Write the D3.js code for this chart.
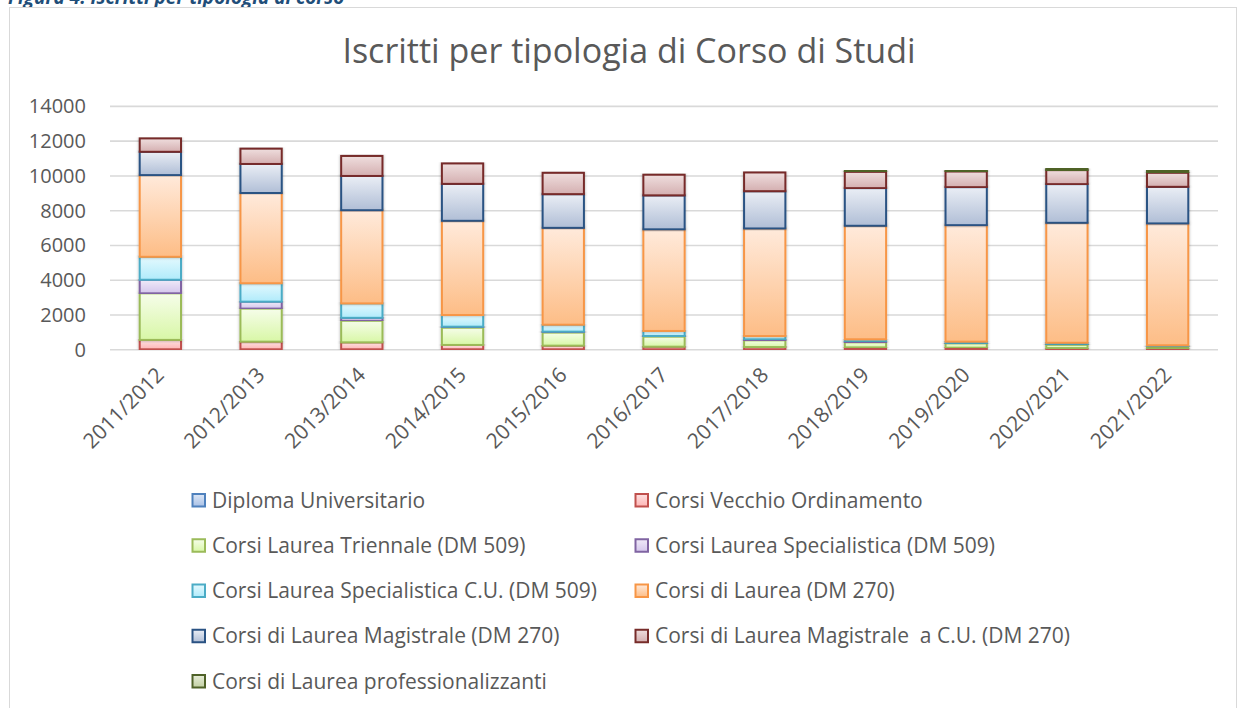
<!DOCTYPE html>
<html><head><meta charset="utf-8">
<script src="https://cdn.jsdelivr.net/npm/d3@7"></script>
<style>
html,body{margin:0;padding:0;background:#fff;}
svg{display:block;}
text{font-family:"Open Sans",sans-serif;}
</style></head>
<body><svg id="chart" width="1238" height="708"></svg>
<script>
const years = ["2011/2012","2012/2013","2013/2014","2014/2015","2015/2016","2016/2017","2017/2018","2018/2019","2019/2020","2020/2021","2021/2022"];
const seriesNames = ["Diploma Universitario","Corsi Vecchio Ordinamento","Corsi Laurea Triennale (DM 509)","Corsi Laurea Specialistica (DM 509)","Corsi Laurea Specialistica C.U. (DM 509)","Corsi di Laurea (DM 270)","Corsi di Laurea Magistrale (DM 270)","Corsi di Laurea Magistrale  a C.U. (DM 270)","Corsi di Laurea professionalizzanti"];
const diploma       = [0,0,0,0,0,0,0,0,0,0,0];
const vecchio       = [540,440,400,250,210,150,130,110,90,70,40];
const triennale     = [2680,1900,1240,990,750,575,385,290,250,190,100];
const specialistica = [780,400,170,60,55,40,55,45,20,15,10];
const specCU        = [1320,1060,830,670,400,290,190,130,80,100,80];
const laurea270     = [4700,5190,5360,5420,5570,5845,6190,6530,6700,6900,7010];
const magistrale    = [1340,1670,1970,2125,1940,1955,2145,2165,2185,2225,2105];
const magistraleCU  = [770,880,1150,1175,1225,1185,1075,935,900,805,805];
const professional  = [0,0,0,0,0,0,0,100,75,115,115];
const yTicks = [0,2000,4000,6000,8000,10000,12000,14000];
const title = "Iscritti per tipologia di Corso di Studi";
const caption = "Figura 4: Iscritti per tipologia di corso";

const seriesValues = [diploma,vecchio,triennale,specialistica,specCU,laurea270,magistrale,magistraleCU,professional];
const styles = [
  {stroke:"#4F81BD", top:"#dde7f6", bot:"#a9c1e6"},
  {stroke:"#C0504D", top:"#fde2e2", bot:"#ffb5b5"},
  {stroke:"#9BBB59", top:"#f6fdea", bot:"#d8f7a6"},
  {stroke:"#8064A2", top:"#f0eaf8", bot:"#d4c6ec"},
  {stroke:"#4BACC6", top:"#e4f9fe", bot:"#b0ebfb"},
  {stroke:"#F79646", top:"#ffeadb", bot:"#fdbd86"},
  {stroke:"#2A5283", top:"#eaeef5", bot:"#b0bed6"},
  {stroke:"#772C2A", top:"#efdede", bot:"#d4afb0"},
  {stroke:"#4F6228", top:"#e7edd9", bot:"#c2d0a3"}
];

const rows = years.map((y,i)=>{const o={year:y}; seriesNames.forEach((s,k)=>o[s]=seriesValues[k][i]); return o;});
const stacked = d3.stack().keys(seriesNames)(rows);

const svg = d3.select("#chart");
const defs = svg.append("defs");
styles.forEach((s,k)=>{
  const g = defs.append("linearGradient").attr("id","g"+k).attr("x1",0).attr("y1",0).attr("x2",0).attr("y2",1);
  g.append("stop").attr("offset","0%").attr("stop-color",s.top);
  g.append("stop").attr("offset","100%").attr("stop-color",s.bot);
});
const f = defs.append("filter").attr("id","shadow").attr("x","-20%").attr("y","-5%").attr("width","140%").attr("height","110%");
f.append("feDropShadow").attr("dx",0).attr("dy",0).attr("stdDeviation",1.6).attr("flood-color","#000").attr("flood-opacity",0.3);

// caption (cut off at top, as in the source page)
svg.append("text").attr("x",8).attr("y",4).attr("font-size",19).attr("font-weight","bold").attr("font-style","italic")
  .attr("fill","#1F4E79").text(caption);

// chart frame
svg.append("rect").attr("x",9.5).attr("y",7.5).attr("width",1227).attr("height",720).attr("fill","#fff").attr("stroke","#d9d9d9").attr("stroke-width",1);

svg.append("text").attr("x",629).attr("y",63).attr("text-anchor","middle").attr("font-size",34)
  .attr("fill","#595959").text(title);

const x = d3.scaleBand().domain(years).range([110,1218]).paddingInner(0.59).paddingOuter(0.295);
const y = d3.scaleLinear().domain([0,14000]).range([349.3,105.9]);

// gridlines + y tick labels
const yAxis = d3.axisLeft(y).tickValues(yTicks).tickSize(-(1218-110)).tickPadding(24).tickFormat(d3.format("d"));
const ga = svg.append("g").attr("transform","translate(110,0)").call(yAxis);
ga.select(".domain").remove();
ga.selectAll(".tick line").attr("stroke","#d9d9d9").attr("stroke-width",1.6);
ga.selectAll(".tick text").attr("fill","#595959").attr("font-size",20).attr("font-family","'Open Sans',sans-serif").attr("dy","0.35em");

// bars
const layers = svg.append("g").selectAll("g").data(stacked).join("g")
  .attr("fill",(d,k)=>`url(#g${k})`).attr("stroke",(d,k)=>styles[k].stroke).attr("stroke-width",2);
layers.selectAll("rect").data(d=>d.filter(p=>p[1]-p[0]>0)).join("rect")
  .attr("x",p=>x(p.data.year)).attr("width",x.bandwidth())
  .attr("y",p=>y(p[1])).attr("height",p=>y(p[0])-y(p[1]))
  .attr("filter","url(#shadow)");

// x axis labels
const xAxis = d3.axisBottom(x).tickSize(0).tickPadding(0);
const gx = svg.append("g").attr("transform","translate(0,349.3)").call(xAxis);
gx.select(".domain").remove();
gx.selectAll(".tick text").attr("fill","#595959").attr("font-size",21).attr("font-family","'Open Sans',sans-serif")
  .attr("text-anchor","end").attr("dy",0).attr("y",0)
  .attr("transform","translate(5,27) rotate(-45)");

// legend
const leg = svg.append("g");
seriesNames.forEach((s,k)=>{
  const col = k%2, row = Math.floor(k/2);
  const lx = col===0 ? 192.5 : 635.5;
  const ly = 494 + row*45.25;
  leg.append("rect").attr("x",lx).attr("y",ly).attr("width",12.5).attr("height",12.5)
    .attr("fill",`url(#g${k})`).attr("stroke",styles[k].stroke).attr("stroke-width",2);
  leg.append("text").attr("x",lx+19.5).attr("y",ly+13.5).attr("font-size",21).attr("fill","#595959")
    .attr("xml:space","preserve").style("white-space","pre").text(s);
});
</script></body></html>
